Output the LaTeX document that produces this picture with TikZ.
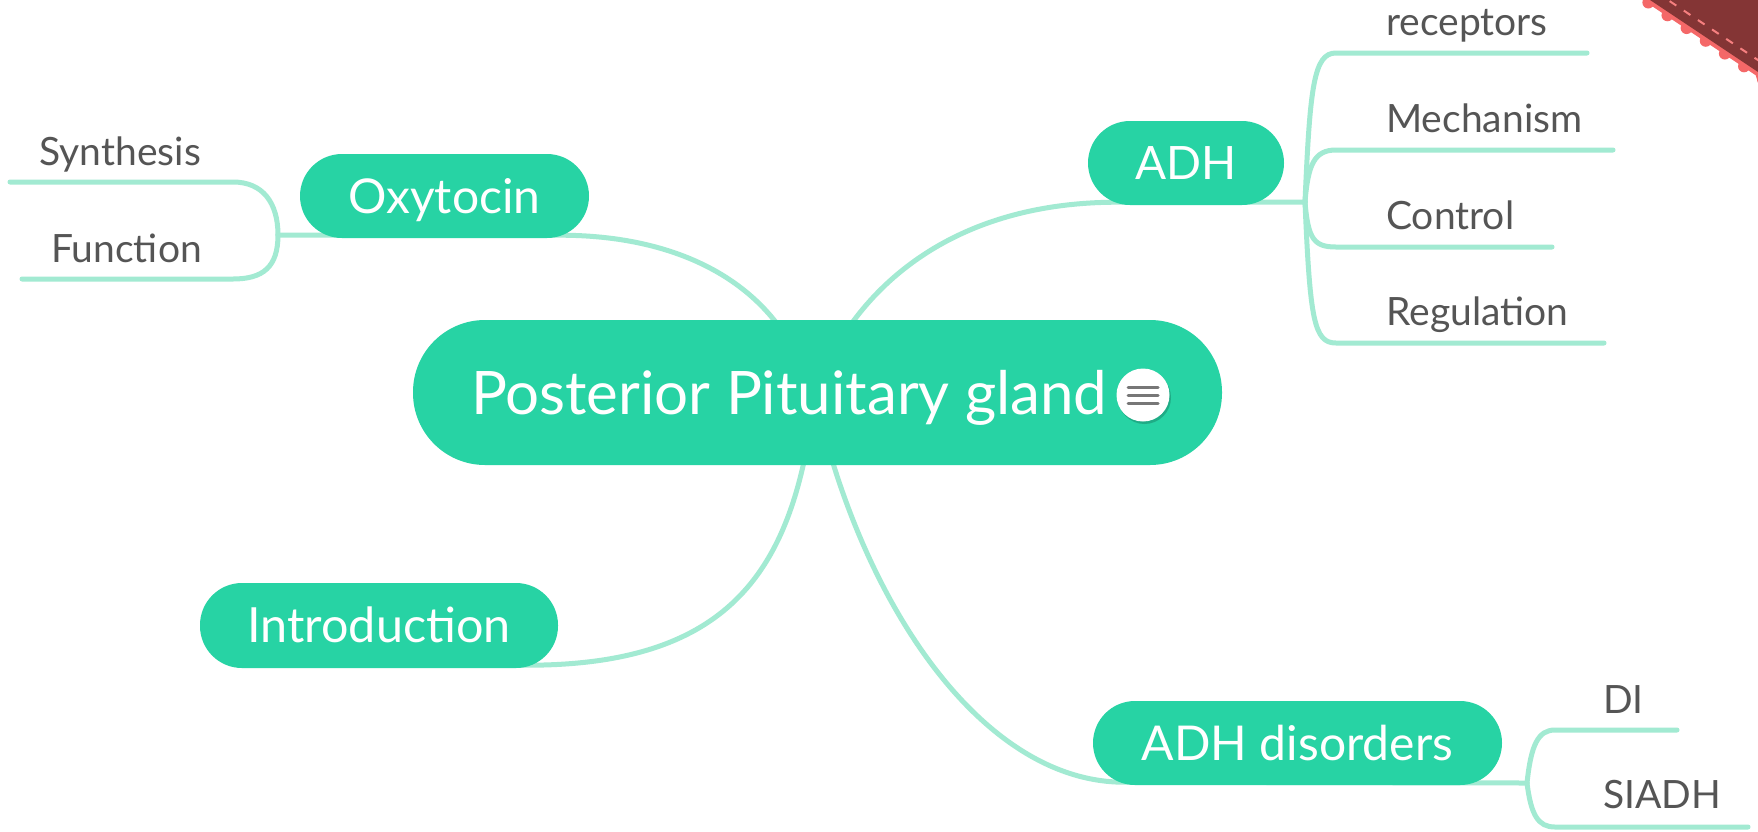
\documentclass[tikz,border=0pt]{standalone}
\usepackage{fontspec}
\setmainfont{Lato}
\usetikzlibrary{calc}
\pgfdeclarelayer{bg}
\pgfdeclarelayer{background}
\pgfsetlayers{bg,background,main}
\definecolor{topicgreen}{HTML}{27D3A4}
\definecolor{linkgreen}{HTML}{A2EAD2}
\definecolor{leafgray}{HTML}{555555}
\definecolor{cornerdark}{HTML}{843535}
\definecolor{cornerlight}{HTML}{F46868}
\definecolor{icongray}{HTML}{777777}
\begin{document}
\begin{tikzpicture}[x=1pt,y=-1pt,
  topic/.style={fill=topicgreen,text=white,inner sep=0pt,minimum height=84pt,
    rounded corners=42pt,font=\fontsize{48}{48}\selectfont,text height=34.5pt,text depth=0pt},
  central/.style={topic,minimum height=145pt,rounded corners=72pt,
    font=\fontsize{60}{60}\selectfont,text height=43pt},
  leaf/.style={text=leafgray,inner sep=0pt,font=\fontsize{39}{39}\selectfont},
  link/.style={draw=linkgreen,line width=5pt,line cap=round},
]
\useasboundingbox (0,0) rectangle (1758,831);
\begin{pgfonlayer}{bg}
\fill[white] (0,0) rectangle (1758,831);
\end{pgfonlayer}

% ---------- topics ----------
\node[central,minimum width=809pt] (root) at (817.5,392.5)
  {\hbox to 809pt{\hspace{58pt}Posterior Pituitary gland\hfill}};
\node[topic,minimum width=289pt] (oxy) at (444.5,196) {Oxytocin};
\node[topic,minimum width=196pt,font=\fontsize{46}{46}\selectfont,text height=33pt] (adh) at (1186,163) {ADH};
\node[topic,minimum width=358pt,minimum height=85pt,font=\fontsize{48.5}{48.5}\selectfont] (intro) at (379,625.5) {Introduction};
\node[topic,minimum width=409pt] (dis) at (1297.5,743) {ADH disorders};

% menu icon
\fill[black,opacity=0.18] (1144.5,397.5) circle (26.5);
\node[circle,fill=white,minimum size=53pt,inner sep=0pt] (menu) at (1143,395) {};
\foreach \yy in {387,395,403}
  \draw[icongray,line width=3pt,line cap=round] (1128,\yy) -- (1158,\yy);

% ---------- leaves ----------
\node[leaf,anchor=base east] (syn) at (201,165) {Synthesis};
\node[leaf,anchor=base east] (fun) at (202,262) {Function};
\node[leaf,anchor=base west] (rec) at (1386,35) {receptors};
\node[leaf,anchor=base west] (mec) at (1386,132) {Mechanism};
\node[leaf,anchor=base west] (con) at (1386,229) {Control};
\node[leaf,anchor=base west] (reg) at (1386,325) {Regulation};
\node[leaf,anchor=base west] (di) at (1603,713) {DI};
\node[leaf,anchor=base west] (sia) at (1603,808) {SIADH};

% ---------- junctions / hub ----------
\coordinate (hubT) at (812,400);
\coordinate (hubB) at (815,395);
\coordinate (oxyJ) at (278,235);
\coordinate (adhJ) at (1305,202);
\coordinate (disJ) at (1527,783);

\begin{pgfonlayer}{background}
% main branches
\draw[link] (oxyJ) -- ([xshift=-30pt,yshift=3pt]oxy.south east)
  .. controls (700,235) and (790,300) .. (hubT);
\draw[link] (adhJ) -- ([xshift=30pt,yshift=3pt]adh.south west)
  .. controls (950,202) and (850,290) .. (hubT);
\draw[link] ([yshift=3pt]intro.south) -- ([xshift=-30pt,yshift=3pt]intro.south east)
  .. controls (740,665) and (795,560) .. (hubB);
\draw[link] (disJ) -- ([xshift=30pt,yshift=3pt]dis.south west)
  .. controls (980,781) and (860,600) .. (hubB);

% oxytocin leaves
\draw[link] (oxyJ) .. controls (278,203) and (263,182) .. (233,182) -- (10,182);
\draw[link] (oxyJ) .. controls (278,267) and (263,279) .. (233,279) -- (22,279);
% ADH leaves
\draw[link] (adhJ) .. controls (1310,85) and (1314,53) .. (1336,53) -- (1587,53);
\draw[link] (adhJ) .. controls (1308,165) and (1314,150) .. (1336,150) -- (1613,150);
\draw[link] (adhJ) .. controls (1308,239) and (1314,247) .. (1336,247) -- (1552,247);
\draw[link] (adhJ) .. controls (1310,320) and (1314,343) .. (1336,343) -- (1604,343);
% disorders leaves
\draw[link] (disJ) .. controls (1531,745) and (1538,730) .. (1555,730) -- (1677,730);
\draw[link] (disJ) .. controls (1531,815) and (1538,827) .. (1555,827) -- (1748,827);
\end{pgfonlayer}

% ---------- red corner ----------
\fill[cornerlight] ({1650-0.555*4},{0.832*4}) -- ({1758-0.555*4},{72+0.832*4}) -- (1760,90) -- (1760,-2) -- (1640,-2) -- cycle;
\foreach \s in {0,23,...,161}
  \fill[cornerlight] ({1650+0.832*\s-0.555*3},{0.555*\s+0.832*3}) circle (6);
\fill[cornerdark] (1650,0) -- (1758,72) -- (1760,72) -- (1760,-2) -- (1648,-2) -- cycle;
\draw[cornerlight!85!white,line width=2pt,dash pattern=on 8pt off 9pt]
  (1655.5,-8.3) -- (1780,74.8);
\end{tikzpicture}
\end{document}
